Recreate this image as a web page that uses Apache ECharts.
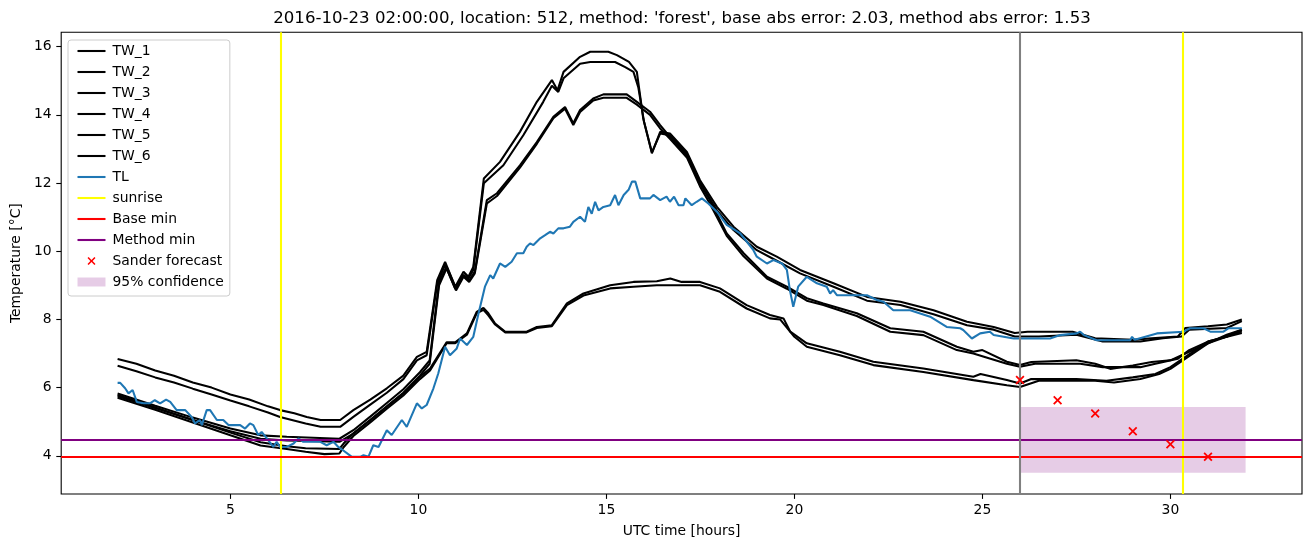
<!DOCTYPE html>
<html>
<head>
<meta charset="utf-8">
<script src="https://cdn.jsdelivr.net/npm/echarts@6/dist/echarts.min.js"></script>
<style>
html,body{margin:0;padding:0;background:#fff;}
#chart{width:1311px;height:547px;}
</style>
</head>
<body>
<div id="chart"></div>
<script>
// ---- data (hours UTC, temperature °C) ----
const tw1 = [[2,6.84],[2.5,6.7],[3,6.5],[3.5,6.35],[4,6.15],[4.5,6.0],[5,5.8],[5.5,5.65],[6,5.45],[6.32,5.34],[6.7,5.25],[7.03,5.14],[7.4,5.05],[7.92,5.05],[8.27,5.34],[8.72,5.65],[9.16,5.98],[9.6,6.35],[9.96,6.9],[10.22,7.05],[10.5,9.15],[10.71,9.69],[10.98,8.96],[11.2,9.4],[11.33,9.25],[11.46,9.54],[11.74,12.13],[12.17,12.62],[12.7,13.5],[13.15,14.38],[13.55,15.02],[13.7,14.72],[13.86,15.26],[14.3,15.7],[14.57,15.85],[15.05,15.85],[15.28,15.75],[15.6,15.55],[15.81,15.26],[15.98,13.89],[16.21,12.87],[16.43,13.5],[16.69,13.45],[17.14,12.91],[17.49,12.08],[17.94,11.3],[18.38,10.72],[19.0,10.13],[19.53,9.84],[20.15,9.45],[21.04,9.06],[21.93,8.66],[22.82,8.52],[23.7,8.27],[24.59,7.93],[25.3,7.78],[25.86,7.6],[26.2,7.64],[27.4,7.64],[28.0,7.45],[29.0,7.4],[29.5,7.45],[30.2,7.5],[30.4,7.75],[31.0,7.8],[31.5,7.85],[31.9,8.0]];
const tw2 = [[2,6.64],[2.5,6.48],[3,6.3],[3.5,6.15],[4,5.97],[4.5,5.8],[5,5.62],[5.5,5.45],[6,5.27],[6.32,5.14],[7.0,4.95],[7.4,4.85],[7.92,4.85],[8.27,5.14],[8.72,5.5],[9.16,5.85],[9.6,6.25],[9.96,6.8],[10.22,6.95],[10.5,9.05],[10.71,9.6],[10.98,8.9],[11.2,9.3],[11.33,9.2],[11.46,9.45],[11.74,11.99],[12.26,12.52],[12.79,13.4],[13.32,14.38],[13.55,14.85],[13.72,14.67],[13.86,15.07],[14.3,15.5],[14.57,15.55],[15.23,15.55],[15.5,15.4],[15.72,15.26],[15.85,14.8],[16.0,13.8],[16.21,12.9],[16.43,13.45],[16.69,13.4],[17.14,12.85],[17.49,12.0],[17.94,11.2],[18.38,10.62],[19.0,10.03],[19.53,9.72],[20.15,9.35],[21.04,8.96],[21.93,8.55],[22.82,8.42],[23.7,8.15],[24.59,7.83],[25.3,7.7],[25.86,7.5],[26.5,7.5],[27.5,7.55],[28.2,7.35],[29.2,7.35],[29.8,7.45],[30.3,7.5],[30.5,7.7],[31.5,7.75],[31.9,7.95]];
const tw3 = [[2,5.83],[3,5.47],[4,5.12],[5,4.8],[5.8,4.6],[6.5,4.56],[7.9,4.5],[8.27,4.75],[8.72,5.15],[9.16,5.55],[9.6,5.95],[10.04,6.45],[10.3,6.8],[10.55,9.1],[10.75,9.55],[11.0,8.9],[11.2,9.3],[11.35,9.15],[11.5,9.4],[11.82,11.5],[12.09,11.7],[12.7,12.52],[13.15,13.2],[13.59,13.94],[13.9,14.23],[14.12,13.75],[14.3,14.14],[14.65,14.48],[14.92,14.6],[15.54,14.6],[15.81,14.38],[16.16,14.09],[16.43,13.7],[16.69,13.35],[17.14,12.8],[17.49,11.99],[17.75,11.5],[18.2,10.52],[18.65,9.94],[19.27,9.25],[19.8,8.96],[20.33,8.62],[20.77,8.47],[21.66,8.18],[22.55,7.74],[23.43,7.64],[24.32,7.2],[24.76,7.05],[25.0,7.1],[25.65,6.76],[26,6.66],[26.3,6.75],[27.5,6.8],[28,6.7],[28.4,6.55],[29,6.65],[29.5,6.75],[30,6.8],[30.4,7.0],[31,7.3],[31.5,7.55],[31.9,7.7]];
const tw4 = [[2,5.75],[3,5.4],[4,5.05],[5,4.72],[5.8,4.5],[6.5,4.45],[7.9,4.41],[8.27,4.65],[8.72,5.05],[9.16,5.45],[9.6,5.85],[10.04,6.35],[10.3,6.7],[10.55,9.0],[10.75,9.5],[11.0,8.85],[11.2,9.25],[11.35,9.1],[11.5,9.35],[11.82,11.4],[12.09,11.62],[12.7,12.45],[13.15,13.15],[13.59,13.9],[13.9,14.18],[14.12,13.7],[14.3,14.08],[14.65,14.42],[14.92,14.5],[15.54,14.5],[15.81,14.3],[16.16,14.0],[16.43,13.6],[16.69,13.3],[17.14,12.75],[17.49,11.9],[17.75,11.4],[18.2,10.45],[18.65,9.85],[19.27,9.2],[19.8,8.9],[20.33,8.55],[20.77,8.42],[21.66,8.1],[22.55,7.64],[23.43,7.54],[24.32,7.1],[24.76,7.0],[25.65,6.7],[26,6.61],[26.4,6.7],[27.6,6.7],[28.2,6.6],[29.2,6.6],[29.6,6.7],[30.2,6.85],[30.5,7.1],[31,7.35],[31.9,7.6]];
const tw5 = [[2,5.78],[3,5.42],[4,5.05],[5,4.68],[5.8,4.4],[6.5,4.28],[7.0,4.22],[7.9,4.2],[8.01,4.36],[8.27,4.66],[8.72,5.05],[9.16,5.44],[9.6,5.83],[10.04,6.32],[10.31,6.56],[10.75,7.33],[10.98,7.33],[11.29,7.59],[11.55,8.22],[11.73,8.34],[11.86,8.18],[12.04,7.88],[12.31,7.64],[12.88,7.64],[13.15,7.78],[13.55,7.83],[13.95,8.47],[14.39,8.76],[15.1,9.0],[15.72,9.1],[16.34,9.12],[16.7,9.2],[17.0,9.1],[17.49,9.1],[18.02,8.91],[18.73,8.42],[19.35,8.13],[19.71,8.03],[19.89,7.64],[20.33,7.3],[21.21,7.05],[22.1,6.76],[23.43,6.56],[24.76,6.32],[24.95,6.4],[25.65,6.22],[26,6.12],[26.3,6.25],[27.5,6.25],[28.3,6.2],[29,6.3],[29.6,6.4],[30,6.6],[30.4,6.9],[31,7.35],[31.5,7.5],[31.9,7.7]];
const tw6 = [[2,5.7],[3,5.35],[4,4.98],[5,4.6],[5.8,4.3],[6.5,4.2],[7.0,4.12],[7.5,4.05],[7.9,4.07],[8.01,4.25],[8.27,4.58],[8.72,4.98],[9.16,5.38],[9.6,5.77],[10.04,6.25],[10.31,6.5],[10.75,7.3],[10.98,7.3],[11.29,7.55],[11.55,8.18],[11.73,8.28],[11.86,8.12],[12.04,7.85],[12.31,7.62],[12.88,7.62],[13.15,7.75],[13.55,7.8],[13.95,8.42],[14.39,8.7],[15.1,8.91],[15.72,8.96],[16.34,9.0],[17.49,9.0],[18.02,8.81],[18.73,8.32],[19.35,8.03],[19.62,8.0],[20.0,7.49],[20.33,7.2],[21.21,6.95],[22.1,6.66],[23.43,6.46],[24.76,6.22],[25.65,6.07],[26,6.02],[26.5,6.2],[28,6.2],[28.5,6.15],[29.2,6.25],[29.7,6.4],[30,6.55],[30.4,6.85],[31,7.3],[31.9,7.65]];
const tl = [[2,6.14],[2.07,6.14],[2.2,5.98],[2.29,5.83],[2.4,5.93],[2.51,5.58],[2.69,5.54],[2.86,5.54],[2.99,5.63],[3.13,5.54],[3.29,5.65],[3.4,5.58],[3.57,5.34],[3.8,5.34],[3.97,5.14],[4.06,4.95],[4.19,5.05],[4.24,4.9],[4.37,5.34],[4.46,5.34],[4.64,5.05],[4.81,5.05],[4.95,4.9],[5.26,4.9],[5.39,4.8],[5.52,4.95],[5.61,4.9],[5.74,4.61],[5.83,4.7],[5.97,4.51],[6.14,4.26],[6.23,4.41],[6.32,4.26],[6.5,4.26],[6.68,4.36],[6.81,4.51],[6.94,4.41],[7.39,4.41],[7.56,4.31],[7.74,4.41],[7.87,4.26],[7.95,4.2],[8.23,3.97],[8.45,3.97],[8.54,4.02],[8.67,3.97],[8.8,4.31],[8.94,4.26],[9.16,4.75],[9.29,4.61],[9.56,5.05],[9.69,4.85],[9.96,5.54],[10.09,5.39],[10.22,5.49],[10.4,5.98],[10.53,6.42],[10.71,7.2],[10.84,6.95],[11.02,7.15],[11.11,7.44],[11.29,7.25],[11.46,7.49],[11.6,8.18],[11.77,8.96],[11.91,9.3],[11.99,9.2],[12.17,9.64],[12.31,9.54],[12.48,9.69],[12.62,9.94],[12.79,9.94],[12.88,10.13],[12.97,10.23],[13.06,10.18],[13.24,10.38],[13.37,10.47],[13.5,10.57],[13.59,10.52],[13.72,10.67],[13.86,10.67],[14.03,10.72],[14.12,10.86],[14.3,11.01],[14.43,10.86],[14.52,11.3],[14.61,11.1],[14.7,11.45],[14.79,11.2],[14.92,11.3],[15.1,11.35],[15.23,11.65],[15.32,11.35],[15.46,11.65],[15.59,11.8],[15.68,12.04],[15.77,12.04],[15.9,11.55],[16.16,11.55],[16.25,11.65],[16.43,11.5],[16.6,11.6],[16.69,11.45],[16.8,11.6],[16.92,11.35],[17.05,11.35],[17.1,11.55],[17.27,11.35],[17.4,11.45],[17.54,11.55],[17.71,11.4],[17.94,11.16],[18.2,10.77],[18.25,10.72],[18.56,10.52],[18.91,10.03],[19.0,9.84],[19.27,9.64],[19.44,9.74],[19.67,9.64],[19.8,9.45],[19.88,8.86],[19.97,8.37],[20.1,8.96],[20.33,9.25],[20.6,9.06],[20.86,8.96],[20.95,8.76],[21.03,8.86],[21.13,8.71],[21.93,8.71],[22.19,8.57],[22.37,8.52],[22.63,8.27],[23.08,8.27],[23.61,8.08],[24.05,7.78],[24.41,7.74],[24.49,7.69],[24.72,7.44],[24.94,7.59],[25.2,7.64],[25.3,7.54],[25.83,7.44],[26.8,7.44],[27.07,7.54],[27.51,7.59],[27.6,7.64],[27.7,7.54],[28.04,7.39],[28.93,7.39],[28.98,7.49],[29.05,7.4],[29.64,7.59],[30.35,7.64],[30.52,7.74],[30.88,7.74],[31.06,7.64],[31.41,7.64],[31.54,7.74],[31.9,7.74]];
const sunriseHours = [6.33, 30.33];
const baseMin = 3.98;
const methodMin = 4.48;
const forecastStart = 26;
const forecastHours = [26, 27, 28, 29, 30, 31];
const forecastTemps = [6.22, 5.63, 5.24, 4.72, 4.34, 3.97];
const confHours = [26, 32];
const confTemps = [3.5, 5.43];
const xTicks = [5, 10, 15, 20, 25, 30];
const yTicks = [4, 6, 8, 10, 12, 14, 16];
const twNames = ['TW_1','TW_2','TW_3','TW_4','TW_5','TW_6'];
const twData = [tw1, tw2, tw3, tw4, tw5, tw6];
const titleText = "2016-10-23 02:00:00, location: 512, method: 'forest', base abs error: 2.03, method abs error: 1.53";

// ---- chart ----
const FONT = 'DejaVu Sans';
const LW = 2.08;
const chart = echarts.init(document.getElementById('chart'), null, {renderer: 'canvas'});
const xMark = 'path://M0,1.4 L1.4,0 L5,3.6 L8.6,0 L10,1.4 L6.4,5 L10,8.6 L8.6,10 L5,6.4 L1.4,10 L0,8.6 L3.6,5 Z';

const series = [];
twNames.forEach((n, i) => {
  series.push({
    name: n, type: 'line', data: twData[i], showSymbol: false, symbol: 'none',
    lineStyle: {color: '#000', width: LW}, itemStyle: {color: '#000'}, z: 2, silent: true
  });
});
series.push({
  name: 'TL', type: 'line', data: tl, showSymbol: false, symbol: 'none',
  lineStyle: {color: '#1f77b4', width: LW}, itemStyle: {color: '#1f77b4'}, z: 3, silent: true
});
function refLine(name, color, data) {
  return {
    name: name, type: 'line', data: [], symbol: 'none',
    lineStyle: {color: color, width: LW}, itemStyle: {color: color}, z: 4,
    markLine: {silent: true, symbol: ['none','none'], label: {show: false}, animation: false,
      lineStyle: {color: color, width: LW, type: 'solid'}, data: data}
  };
}
series.push(refLine('sunrise', '#ffff00', sunriseHours.map(h => ({xAxis: h}))));
series.push(refLine('Base min', '#ff0000', [{yAxis: baseMin}]));
series.push(refLine('Method min', '#800080', [{yAxis: methodMin}]));
series.push(refLine('forecast start', '#808080', [{xAxis: forecastStart}]));
series.push({
  name: 'Sander forecast', type: 'scatter', symbol: xMark, symbolSize: 9,
  data: forecastHours.map((h, i) => [h, forecastTemps[i]]),
  itemStyle: {color: '#ff0000', opacity: 1}, z: 5, silent: true
});
series.push({
  name: '95% confidence', type: 'line', data: [], symbol: 'none',
  lineStyle: {color: 'rgba(128,0,128,0.2)', width: 9}, itemStyle: {color: 'rgba(128,0,128,0.2)'}, z: 6,
  markArea: {silent: true, animation: false, itemStyle: {color: 'rgba(128,0,128,0.2)'},
    data: [[{coord: [confHours[0], confTemps[0]]}, {coord: [confHours[1], confTemps[1]]}]]}
});

const legendData = twNames.concat(['TL', 'sunrise', 'Base min', 'Method min']).map(n => ({name: n}));
legendData.push({name: 'Sander forecast', itemStyle: {opacity: 1}});
legendData.push({name: '95% confidence', lineStyle: {width: 9}});

const option = {
  animation: false,
  backgroundColor: '#ffffff',
  textStyle: {fontFamily: FONT},
  title: {
    text: titleText, left: 677, top: 5, textAlign: 'center',
    textStyle: {fontFamily: FONT, fontSize: 16.6, fontWeight: 'normal', color: '#000'}
  },
  grid: {left: 61.2, right: 9, top: 32.3, bottom: 53, show: true, borderColor: '#000', borderWidth: 1.1, backgroundColor: 'transparent', containLabel: false},
  legend: {
    orient: 'vertical', left: 68, top: 40, selectedMode: false,
    itemWidth: 28, itemHeight: 8, itemGap: 7,
    padding: [4, 6, 7, 5],
    itemStyle: {opacity: 0},
    lineStyle: {width: LW},
    borderColor: '#cccccc', borderWidth: 1, borderRadius: 3, backgroundColor: 'rgba(255,255,255,0.8)',
    textStyle: {fontFamily: FONT, fontSize: 13.9, color: '#000', padding: [0, 0, 0, 2]},
    data: legendData
  },
  xAxis: {
    type: 'value', min: 0.5, max: 33.5,
    name: 'UTC time [hours]', nameLocation: 'middle', nameGap: 30,
    nameTextStyle: {fontFamily: FONT, fontSize: 13.9, color: '#000'},
    axisLine: {show: false},
    axisTick: {show: true, length: 4.9, lineStyle: {color: '#000', width: 1.1}, customValues: xTicks},
    axisLabel: {show: true, margin: 9.5, fontFamily: FONT, fontSize: 13.9, color: '#000', customValues: xTicks},
    splitLine: {show: false}
  },
  yAxis: {
    type: 'value', min: 2.88, max: 16.42,
    name: 'Temperature [°C]', nameLocation: 'middle', nameGap: 33,
    nameTextStyle: {fontFamily: FONT, fontSize: 13.9, color: '#000'},
    axisLine: {show: false},
    axisTick: {show: true, length: 4.9, lineStyle: {color: '#000', width: 1.1}, customValues: yTicks},
    axisLabel: {show: true, margin: 9.5, fontFamily: FONT, fontSize: 13.9, color: '#000', customValues: yTicks},
    splitLine: {show: false}
  },
  series: series
};
chart.setOption(option);
</script>
</body>
</html>
